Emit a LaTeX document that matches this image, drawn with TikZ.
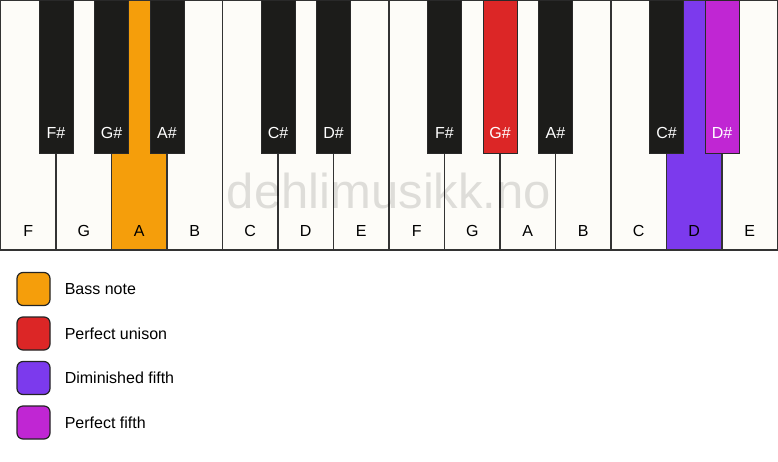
\documentclass[tikz,border=0pt]{standalone}
\usepackage{fontspec}
\setmainfont{Liberation Sans}
\usepackage{tikz}
\usetikzlibrary{positioning}
\definecolor{ivory}{HTML}{FDFCF8}
\definecolor{ebony}{HTML}{1C1C1A}
\definecolor{rim}{HTML}{333333}
\definecolor{bassnote}{HTML}{F59E0B}
\definecolor{unison}{HTML}{DC2626}
\definecolor{dimfifth}{HTML}{7C3AED}
\definecolor{perffifth}{HTML}{C026D3}
\tikzset{
	keyline/.style={draw=rim, line width=1.4pt},
	blackline/.style={draw=rim!80!black, line width=1pt},
	keylabel/.style={anchor=base, font=\fontsize{16}{18}\selectfont, text=black},
	sharplabel/.style={anchor=base, font=\fontsize{16}{18}\selectfont, text=white},
	legendbox/.style={draw=rim!70!black, line width=1.2pt, rounded corners=6pt, minimum size=33pt, inner sep=0pt},
	legendtext/.style={font=\fontsize{16}{18}\selectfont, text height=11.5pt, text depth=0pt, inner sep=0pt},
	watermark/.style={anchor=base, font=\fontsize{49}{55}\selectfont, text=black, text opacity=0.12}
}
\newcommand{\whitekey}[4] % left x, label, fill, name
{
	% key body
	\draw[keyline, fill=#3] (#1,0) rectangle (#1+55.5,250);
	% note name
	\node[keylabel] (#4) at (#1+27.75,236) {#2};
}
\newcommand{\blackkey}[4] % centre x, label, fill, name
{
	% key body
	\draw[blackline, fill=#3] (#1-17,0) rectangle (#1+17,153);
	% note name
	\node[sharplabel] (#4) at (#1,138) {#2};
}
\newcommand{\legenditem}[4] % y, fill, text, name
{
	\node[legendbox, fill=#2] (#4) at (33.5,#1) {};
	\node[legendtext, right=14pt of #4] (#4text) {#3};
}
\begin{document}
\begin{tikzpicture}[x=1pt, y=-1pt]
	\useasboundingbox[fill=white] (0,0) rectangle (778,461);
	% 14 white keys, F to E
	\whitekey{0.5}{F}{ivory}{wF1};
	\whitekey{56}{G}{ivory}{wG1};
	\whitekey{111.5}{A}{bassnote}{wA1};
	\whitekey{167}{B}{ivory}{wB1};
	\whitekey{222.5}{C}{ivory}{wC1};
	\whitekey{278}{D}{ivory}{wD1};
	\whitekey{333.5}{E}{ivory}{wE1};
	\whitekey{389}{F}{ivory}{wF2};
	\whitekey{444.5}{G}{ivory}{wG2};
	\whitekey{500}{A}{ivory}{wA2};
	\whitekey{555.5}{B}{ivory}{wB2};
	\whitekey{611}{C}{ivory}{wC2};
	\whitekey{666.5}{D}{dimfifth}{wD2};
	\whitekey{722}{E}{ivory}{wE2};
	
	% watermark
	\node[watermark] (mark) at (389,208) {dehlimusikk.no};
	
	% black keys
	\blackkey{56}{F\#}{ebony}{bF1};
	\blackkey{111.5}{G\#}{ebony}{bG1};
	\blackkey{167}{A\#}{ebony}{bA1};
	\blackkey{278}{C\#}{ebony}{bC1};
	\blackkey{333.5}{D\#}{ebony}{bD1};
	\blackkey{444.5}{F\#}{ebony}{bF2};
	\blackkey{500}{G\#}{unison}{bG2};
	\blackkey{555.5}{A\#}{ebony}{bA2};
	\blackkey{666.5}{C\#}{ebony}{bC2};
	\blackkey{722}{D\#}{perffifth}{bD2};
	
	% legend
	\legenditem{289}{bassnote}{Bass note}{lbass};
	\legenditem{333.5}{unison}{Perfect unison}{lunison};
	\legenditem{378}{dimfifth}{Diminished fifth}{ldim};
	\legenditem{422.5}{perffifth}{Perfect fifth}{lfifth};
\end{tikzpicture}
\end{document}
